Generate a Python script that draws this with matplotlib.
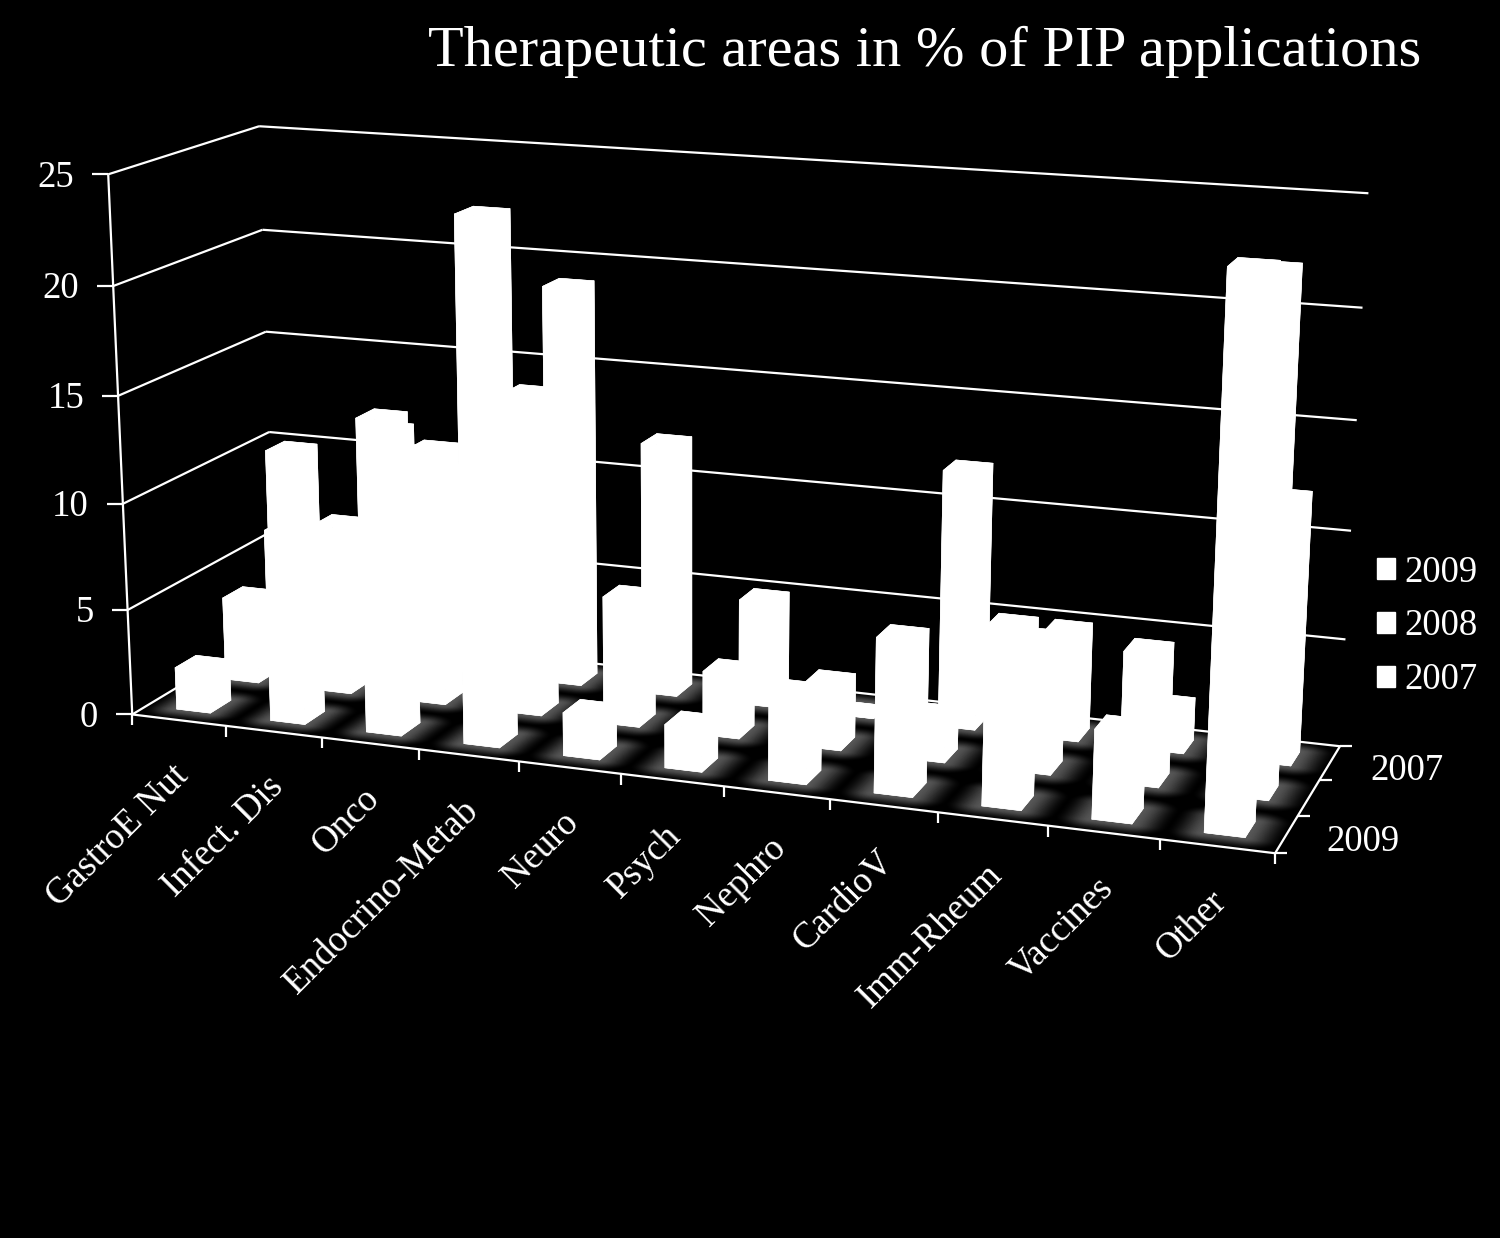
import matplotlib
matplotlib.use("Agg")
import matplotlib.pyplot as plt
import numpy as np
from matplotlib.patches import Patch
from mpl_toolkits.mplot3d.art3d import Line3DCollection

plt.rcParams['font.family'] = ['Liberation Serif', 'DejaVu Serif']

categories = ["GastroE Nut", "Infect. Dis", "Onco", "Endocrino-Metab", "Neuro", "Psych",
              "Nephro", "CardioV", "Imm-Rheum", "Vaccines", "Other"]
years = ["2009", "2008", "2007"]
values_2009 = [2, 9, 14, 24, 2, 2, 4, 7, 8, 4, 24]
values_2008 = [4, 8, 12, 15, 6, 3, 3, 2, 6, 6, 23]
values_2007 = [10, 12, 10, 19, 12, 5, 0, 12, 5, 2, 12]
z_ticks = [0, 5, 10, 15, 20, 25]

BAR_W = 0.36
BAR_D = 0.42

# camera: box corners (category, row, value) -> where they sit in the picture
anchors_3d = [(0, 0, 0), (11, 0, 0), (11, 3, 0), (0, 0, 25), (0, 3, 25), (11, 3, 25),
              (0, 0, 10), (0, 3, 10), (11, 3, 10), (0, 0, 5), (0, 3, 5), (0, 3, 15),
              (0, 3, 20), (11, 3, 5)]
anchors_px = [(133, 714), (1275, 855), (1338, 745), (108, 175), (260, 127), (1368, 194),
              (123, 503), (269, 431), (1352, 530), (127, 609), (273, 535), (265, 330),
              (262, 229), (1347, 639)]


def fit_camera(pts3, pts2):
    """Direct linear transform, 3x4 camera matrix."""
    rows = []
    for (x, y, z), (u, v) in zip(pts3, pts2):
        rows.append([x, y, z, 1, 0, 0, 0, 0, -u * x, -u * y, -u * z, -u])
        rows.append([0, 0, 0, 0, x, y, z, 1, -v * x, -v * y, -v * z, -v])
    return np.linalg.svd(np.array(rows, float))[2][-1].reshape(3, 4)


P = fit_camera(anchors_3d, anchors_px)
if P[2, 3] < 0:
    P = -P


def project(x, y, z):
    u, v, w = P @ np.array([x, y, z, 1.0])
    return u / w, v / w


fig = plt.figure(figsize=(15, 12.38), dpi=100, facecolor="black")

# background layer: floor glow, ticks and text, in picture pixels
bg = fig.add_axes([0, 0, 1, 1])
bg.set_xlim(0, 1500)
bg.set_ylim(1238, 0)
bg.axis("off")

# floor glow around each bar foot
H = np.linalg.inv(P[:, [0, 1, 3]])
uu, vv = np.meshgrid(np.arange(1500) + 0.5, np.arange(1238) + 0.5)
w = H[2, 0] * uu + H[2, 1] * vv + H[2, 2]
fx = (H[0, 0] * uu + H[0, 1] * vv + H[0, 2]) / w
fy = (H[1, 0] * uu + H[1, 1] * vv + H[1, 2]) / w
inside = (fx >= 0) & (fx <= 11) & (fy >= 0) & (fy <= 3)
cx = np.floor(np.clip(fx, 0, 10.999)) + 0.5
cy = np.floor(np.clip(fy, 0, 2.999)) + 0.5
dx = np.maximum(np.abs(fx - cx) - BAR_W / 2, 0) / 0.33
dy = np.maximum(np.abs(fy - cy) - BAR_D / 2, 0) / 0.3
fall = np.clip(1 - np.hypot(dx, dy), 0, 1)
glow = 0.34 * fall * fall * (3 - 2 * fall)
glow[~inside] = 0
bg.imshow(glow, cmap="gray", vmin=0, vmax=1, extent=(0, 1500, 1238, 0), aspect="auto", zorder=0)

tick_kw = dict(color="white", lw=1.6, solid_capstyle="butt")
for z in z_ticks:
    u, v = project(0, 0, z)
    bg.plot([u - 16, u], [v, v], **tick_kw)
    bg.text(u - 34, v + 3, str(z), color="white", fontsize=26.5, ha="right", va="center")
for i in range(len(categories) + 1):
    u, v = project(i, 0, 0)
    bg.plot([u, u], [v, v + 11], **tick_kw)
for k in range(4):
    u, v = project(11, k, 0)
    bg.plot([u, u + 12], [v, v], **tick_kw)
for k, lab in [(0.5, "2009"), (2.5, "2007")]:
    u, v = project(11, k, 0)
    bg.text(u + 40, v + 8, lab, color="white", fontsize=26.5, ha="left", va="center")
for i, lab in enumerate(categories):
    u, v = project(i + 0.5, 0, 0)
    bg.text(u - 8, v + 38, lab, color="white", fontsize=26.5, rotation=45,
            rotation_mode="anchor", ha="right", va="top")
bg.text(1421, 52, "Therapeutic areas in % of PIP applications", color="white", fontsize=42,
        ha="right", va="center")

# bars and walls on a 3d axes driven by the fitted camera
ax = fig.add_axes([0, 0, 1, 1], projection="3d", computed_zorder=False)
ax.patch.set_visible(False)
ax.set_axis_off()
M = np.vstack([P[0], P[1], [0, 1, 0, 0], P[2]])
ax.get_proj = lambda: M
ax.apply_aspect = lambda position=None: None
ax.viewLim.intervalx = (0, 1500)
ax.viewLim.intervaly = (1238, 0)

segments = []
for z in z_ticks:
    segments.append([(0, 0, z), (0, 3, z)])
    segments.append([(0, 3, z), (11, 3, z)])
segments.append([(0, 0, 0), (0, 0, 25)])
segments.append([(0, 0, 0), (11, 0, 0)])
segments.append([(11, 0, 0), (11, 3, 0)])
ax.add_collection3d(Line3DCollection(segments, colors="white", linewidths=1.6, zorder=1))

for row, vals in enumerate([values_2009, values_2008, values_2007]):
    for i, val in enumerate(vals):
        ax.bar3d(i + 0.5 - BAR_W / 2, row + 0.5 - BAR_D / 2, 0, BAR_W, BAR_D, val,
                 color="white", edgecolor="white", linewidth=0.4, shade=False, zorder=5 - row)

handles = [Patch(facecolor="white", edgecolor="white", label=y) for y in years]
fig.legend(handles=handles, loc="upper left", bbox_to_anchor=(1377 / 1500, 1 - 555 / 1238), frameon=False,
           labelcolor="white", fontsize=26.5, handlelength=0.5, handleheight=0.5, handletextpad=0.25,
           labelspacing=0.525, borderpad=0, borderaxespad=0)

fig.savefig("out.png", dpi=100, facecolor="black")
